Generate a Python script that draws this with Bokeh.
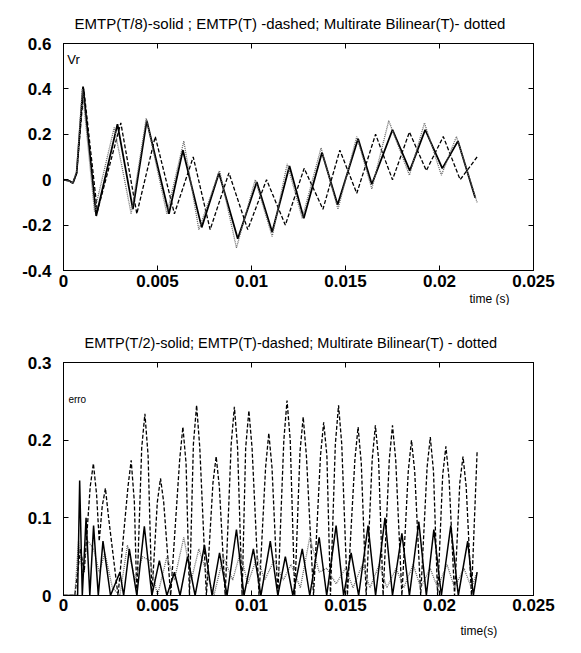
from bokeh.plotting import figure
from bokeh.models import Range1d, FixedTicker, LinearAxis, Label, Title
from bokeh.layouts import column
from bokeh.embed import file_html
from bokeh.resources import INLINE

# ---------------- data: upper panel (Vr) ----------------
top_title = "EMTP(T/8)-solid ; EMTP(T) -dashed; Multirate Bilinear(T)- dotted"
top_x_ticks = [0, 0.005, 0.01, 0.015, 0.02, 0.025]
top_x_labels = ["0", "0.005", "0.01", "0.015", "0.02", "0.025"]
top_y_ticks = [-0.4, -0.2, 0, 0.2, 0.4, 0.6]
top_y_labels = ["-0.4", "-0.2", "0", "0.2", "0.4", "0.6"]

vr_solid_t = [0.0, 0.0003, 0.0005, 0.0007, 0.00104, 0.00174, 0.00287, 0.00369, 0.00443,
              0.00561, 0.00635, 0.00735, 0.00827, 0.00927, 0.01028, 0.0111, 0.01202,
              0.01278, 0.01375, 0.01458, 0.01567, 0.0164, 0.0175, 0.01842, 0.01924,
              0.02015, 0.02098, 0.0219]
vr_solid_v = [0.0, -0.005, -0.015, 0.03, 0.41, -0.16, 0.245, -0.13, 0.26,
              -0.15, 0.13, -0.21, 0.03, -0.26, -0.01, -0.23, 0.06,
              -0.17, 0.12, -0.11, 0.18, -0.02, 0.22, 0.04, 0.22,
              0.05, 0.17, -0.08]

vr_dashed_t = [0.0, 0.0003, 0.0005, 0.0007, 0.00108, 0.0018, 0.00305, 0.0039, 0.00488,
               0.0059, 0.0069, 0.0078, 0.0088, 0.0098, 0.0108, 0.0118, 0.0128,
               0.0138, 0.0147, 0.0156, 0.0166, 0.0175, 0.0184, 0.0193, 0.0202,
               0.0211, 0.0220]
vr_dashed_v = [0.0, -0.005, -0.015, 0.03, 0.40, -0.14, 0.25, -0.15, 0.19,
               -0.15, 0.10, -0.22, 0.03, -0.22, 0.0, -0.20, 0.05,
               -0.13, 0.13, -0.06, 0.20, 0.0, 0.21, 0.04, 0.19,
               0.0, 0.10]

vr_dotted_t = [0.0, 0.0003, 0.0005, 0.0007, 0.0010, 0.00165, 0.0027, 0.0036, 0.0044,
               0.0055, 0.0064, 0.0072, 0.0083, 0.0092, 0.0102, 0.0111, 0.0119,
               0.0127, 0.0137, 0.0146, 0.0156, 0.0164, 0.0173, 0.0184, 0.0192,
               0.0201, 0.0209, 0.0220]
vr_dotted_v = [0.0, -0.005, -0.015, 0.04, 0.40, -0.14, 0.23, -0.15, 0.27,
               -0.15, 0.17, -0.22, 0.04, -0.30, 0.0, -0.25, 0.07,
               -0.17, 0.14, -0.13, 0.19, -0.04, 0.26, 0.02, 0.25,
               0.02, 0.19, -0.10]

# ---------------- data: lower panel (erro) ----------------
bot_title = "EMTP(T/2)-solid; EMTP(T)-dashed; Multirate Bilinear(T) - dotted"
bot_x_ticks = [0, 0.005, 0.01, 0.015, 0.02, 0.025]
bot_x_labels = ["0", "0.005", "0.01", "0.015", "0.02", "0.025"]
bot_y_ticks = [0, 0.1, 0.2, 0.3]
bot_y_labels = ["0", "0.1", "0.2", "0.3"]

err_dashed_t = [0.0, 0.0006, 0.0009, 0.0011, 0.00142, 0.00159, 0.00176, 0.0019, 0.00206,
                0.00223, 0.0024, 0.0029, 0.00343, 0.0036, 0.00377, 0.0039, 0.00416,
                0.00433, 0.0045, 0.0047, 0.00499, 0.00516, 0.00533, 0.0057, 0.00618,
                0.00635, 0.00652, 0.0067, 0.00691, 0.00708, 0.00725, 0.0076, 0.00795,
                0.00812, 0.00829, 0.0086, 0.00892, 0.00909, 0.00926, 0.0095, 0.00969,
                0.00986, 0.01003, 0.0104, 0.01075, 0.01092, 0.01109, 0.0114, 0.01172,
                0.01189, 0.01206, 0.0123, 0.01258, 0.01275, 0.01292, 0.0133, 0.01367,
                0.01384, 0.01401, 0.0142, 0.01446, 0.01463, 0.0148, 0.0151, 0.0155,
                0.01567, 0.01584, 0.0161, 0.01642, 0.01659, 0.01676, 0.0170, 0.01733,
                0.0175, 0.01767, 0.0180, 0.01834, 0.01851, 0.01868, 0.0190, 0.01934,
                0.01951, 0.01968, 0.0199, 0.02017, 0.02034, 0.02051, 0.0208, 0.02108,
                0.02125, 0.02142, 0.0217, 0.0220]
err_dashed_v = [0.0, 0.0, 0.06, 0.03, 0.14, 0.170, 0.13, 0.07, 0.115,
                0.138, 0.10, 0.0, 0.14, 0.174, 0.12, 0.0, 0.19,
                0.234, 0.18, 0.0, 0.12, 0.151, 0.12, 0.0, 0.175,
                0.217, 0.17, 0.0, 0.195, 0.245, 0.19, 0.0, 0.145,
                0.179, 0.14, 0.0, 0.195, 0.243, 0.19, 0.0, 0.19,
                0.238, 0.19, 0.0, 0.165, 0.209, 0.165, 0.0, 0.20,
                0.251, 0.20, 0.0, 0.185, 0.230, 0.18, 0.0, 0.18,
                0.223, 0.18, 0.0, 0.195, 0.245, 0.195, 0.0, 0.175,
                0.217, 0.17, 0.0, 0.175, 0.219, 0.175, 0.0, 0.175,
                0.219, 0.175, 0.0, 0.16, 0.200, 0.16, 0.0, 0.165,
                0.204, 0.16, 0.0, 0.155, 0.192, 0.15, 0.0, 0.145,
                0.179, 0.14, 0.0, 0.185]

err_solid_t = [0.0, 0.0006, 0.00075, 0.00086, 0.00100, 0.0012, 0.0014, 0.0016, 0.00185,
               0.0021, 0.0025, 0.0030, 0.0032, 0.0035, 0.0039, 0.0043, 0.0047,
               0.0051, 0.0055, 0.0059, 0.0062, 0.0066, 0.0070, 0.0075, 0.0079,
               0.0083, 0.0087, 0.0092, 0.0096, 0.0101, 0.0105, 0.0110, 0.0114,
               0.0118, 0.0122, 0.0127, 0.0131, 0.0136, 0.0140, 0.0145, 0.0149,
               0.0153, 0.0157, 0.0162, 0.0166, 0.0171, 0.0175, 0.0180, 0.0184,
               0.0189, 0.0193, 0.0197, 0.0201, 0.0206, 0.0210, 0.0215, 0.0218, 0.0220]
err_solid_v = [0.0, 0.0, 0.0, 0.148, 0.0, 0.10, 0.0, 0.09, 0.0,
               0.07, 0.0, 0.03, 0.0, 0.06, 0.0, 0.089, 0.0,
               0.045, 0.0, 0.03, 0.0, 0.05, 0.0, 0.065, 0.0,
               0.055, 0.0, 0.085, 0.0, 0.06, 0.0, 0.07, 0.0,
               0.05, 0.0, 0.06, 0.0, 0.075, 0.0, 0.09, 0.0,
               0.055, 0.0, 0.09, 0.0, 0.10, 0.0, 0.08, 0.0,
               0.095, 0.0, 0.085, 0.0, 0.09, 0.0, 0.07, 0.0, 0.03]

err_dotted_t = [0.0, 0.0006, 0.0008, 0.0010, 0.0013, 0.0016, 0.0019, 0.0022, 0.0026,
                0.0030, 0.0034, 0.0038, 0.0042, 0.0046, 0.0050, 0.0055, 0.0059,
                0.0064, 0.0068, 0.0072, 0.0076, 0.0080, 0.0085, 0.0090, 0.0094,
                0.0098, 0.0103, 0.0107, 0.0112, 0.0117, 0.0121, 0.0126, 0.0131,
                0.0136, 0.0140, 0.0145, 0.0150, 0.0154, 0.0159, 0.0163, 0.0168,
                0.0172, 0.0177, 0.0181, 0.0186, 0.0190, 0.0195, 0.0199, 0.0204,
                0.0208, 0.0213, 0.0217, 0.0220]
err_dotted_v = [0.0, 0.0, 0.07, 0.03, 0.07, 0.06, 0.03, 0.055, 0.01,
                0.0, 0.065, 0.02, 0.05, 0.045, 0.0, 0.05, 0.02,
                0.075, 0.02, 0.06, 0.03, 0.0, 0.05, 0.02, 0.055,
                0.015, 0.05, 0.02, 0.045, 0.02, 0.04, 0.01, 0.075,
                0.03, 0.035, 0.015, 0.035, 0.01, 0.04, 0.01, 0.04,
                0.01, 0.035, 0.01, 0.04, 0.01, 0.035, 0.01, 0.04,
                0.01, 0.035, 0.01, 0.03]

FONT = "Liberation Sans"
W = 572


def style(p, xt, xl, yt, yl, xstand, ystand):
    p.xgrid.visible = False
    p.ygrid.visible = False
    p.outline_line_color = "black"
    p.outline_line_width = 1
    p.background_fill_color = "white"
    p.border_fill_color = "white"
    for ax in p.xaxis:
        ax.ticker = FixedTicker(ticks=xt)
        ax.major_label_overrides = {t: l for t, l in zip(xt, xl)}
        ax.major_label_standoff = xstand
    for ax in p.yaxis:
        ax.ticker = FixedTicker(ticks=yt)
        ax.major_label_overrides = {t: l for t, l in zip(yt, yl)}
        ax.major_label_standoff = ystand
    for ax in p.xaxis + p.yaxis:
        ax.major_tick_in = 5
        ax.major_tick_out = 0
        ax.minor_tick_line_color = None
        ax.axis_line_color = "black"
        ax.major_label_text_font = FONT
        ax.major_label_text_font_size = "17px"
        ax.major_label_text_font_style = "bold"
        ax.major_label_text_color = "black"
    r = LinearAxis(ticker=FixedTicker(ticks=yt), major_tick_in=5, major_tick_out=0,
                   minor_tick_line_color=None, major_label_text_font_size="0px",
                   major_label_text_color=None, major_label_standoff=0)
    a = LinearAxis(ticker=FixedTicker(ticks=xt), major_tick_in=5, major_tick_out=0,
                   minor_tick_line_color=None, major_label_text_font_size="0px",
                   major_label_text_color=None, major_label_standoff=0)
    p.add_layout(r, "right")
    p.add_layout(a, "above")


def set_title(p, text, offset, standoff, size):
    p.title.text = text
    p.title.align = "left"
    p.title.offset = offset
    p.title.standoff = standoff
    p.title.text_font = FONT
    p.title.text_font_size = size
    p.title.text_font_style = "normal"
    p.title.text_color = "black"


# ---------------- upper figure ----------------
p1 = figure(width=W, height=305, output_backend="svg", toolbar_location=None,
            x_range=Range1d(0, 0.025), y_range=Range1d(-0.4, 0.6),
            min_border_left=62, min_border_right=W - 533, min_border_top=42,
            min_border_bottom=35)
p1.line(vr_solid_t, vr_solid_v, line_color="black", line_width=1.8)
p1.line(vr_dashed_t, vr_dashed_v, line_color="black", line_width=1.3, line_dash="4 2")
p1.line(vr_dotted_t, vr_dotted_v, line_color="#666666", line_width=1.3, line_dash="1 1")
style(p1, top_x_ticks, top_x_labels, top_y_ticks, top_y_labels, 4, 12)
set_title(p1, top_title, 11, 24, "15px")
p1.add_layout(Label(x=0.0002, y=0.531, text="Vr", text_align="left",
                    text_baseline="middle", text_font=FONT, text_font_size="13px",
                    text_color="black"))
p1.add_layout(Title(text="time (s)", align="left", offset=406, standoff=0,
                    text_font=FONT, text_font_size="12px", text_font_style="normal",
                    text_color="black"), "below")

# ---------------- lower figure ----------------
p2 = figure(width=W, height=340, output_backend="svg", toolbar_location=None,
            x_range=Range1d(0, 0.025), y_range=Range1d(0, 0.3),
            min_border_left=63, min_border_right=W - 546, min_border_top=57,
            min_border_bottom=47)
p2.line(err_dashed_t, err_dashed_v, line_color="black", line_width=1.3, line_dash="4 2")
p2.line(err_dotted_t, err_dotted_v, line_color="#666666", line_width=1.3, line_dash="1 1")
p2.line(err_solid_t, err_solid_v, line_color="black", line_width=1.5)
style(p2, bot_x_ticks, bot_x_labels, bot_y_ticks, bot_y_labels, 3, 12)
set_title(p2, bot_title, 21, 23, "14.5px")
p2.add_layout(Label(x=0.00026, y=0.253, text="erro", text_align="left",
                    text_baseline="middle", text_font=FONT, text_font_size="10px",
                    text_color="black"))
p2.add_layout(Title(text="time(s)", align="left", offset=397, standoff=16,
                    text_font=FONT, text_font_size="12px", text_font_style="normal",
                    text_color="black"), "below")

layout = column(p1, p2, spacing=0)
open("out.html", "w").write(file_html(layout, INLINE))
